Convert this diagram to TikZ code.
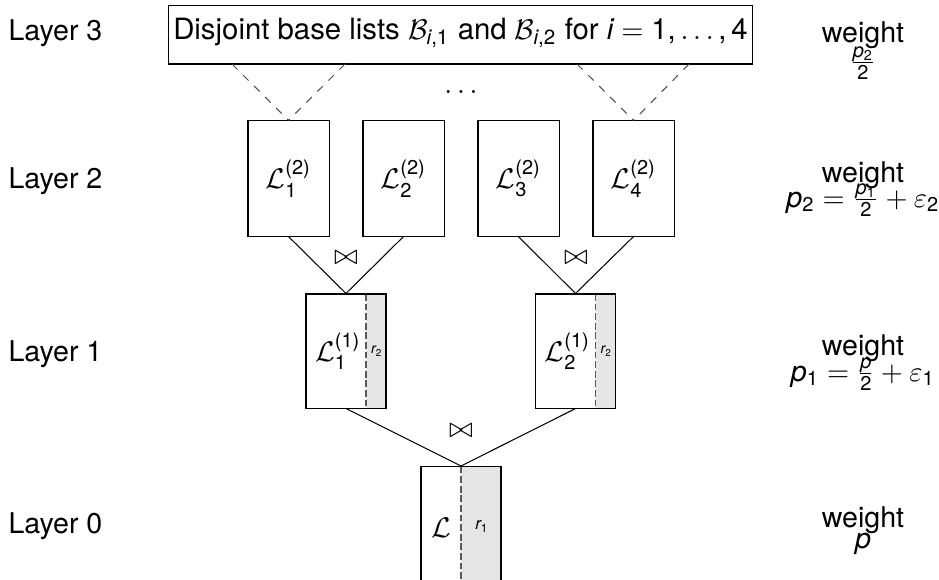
\documentclass[tikz,border=0pt]{standalone}
\usepackage{fontspec}
\setmainfont{TeX Gyre Heros}
\newfontfamily\herosmath{TeX Gyre Heros}[NFSSFamily=herosmath]
% sans digits, parentheses and commas in formulas
\DeclareSymbolFont{sfdig}{TU}{herosmath}{m}{n}
\AtBeginDocument{%
  \DeclareMathSymbol{0}{\mathalpha}{sfdig}{"30}%
  \DeclareMathSymbol{1}{\mathalpha}{sfdig}{"31}%
  \DeclareMathSymbol{2}{\mathalpha}{sfdig}{"32}%
  \DeclareMathSymbol{3}{\mathalpha}{sfdig}{"33}%
  \DeclareMathSymbol{4}{\mathalpha}{sfdig}{"34}%
  \DeclareMathSymbol{5}{\mathalpha}{sfdig}{"35}%
  \DeclareMathSymbol{6}{\mathalpha}{sfdig}{"36}%
  \DeclareMathSymbol{7}{\mathalpha}{sfdig}{"37}%
  \DeclareMathSymbol{8}{\mathalpha}{sfdig}{"38}%
  \DeclareMathSymbol{9}{\mathalpha}{sfdig}{"39}%
  \DeclareMathSymbol{(}{\mathopen}{sfdig}{"28}%
  \DeclareMathSymbol{)}{\mathclose}{sfdig}{"29}%
  \DeclareMathSymbol{,}{\mathpunct}{sfdig}{"2C}%
}
\definecolor{stripgray}{gray}{0.9}
\definecolor{divider}{gray}{0.35}
\newcommand\mv[1]{\mathit{#1}}
\begin{document}
\begin{tikzpicture}[x=0.385pt,y=-0.385pt,
  font=\fontsize{11}{13.6}\selectfont,
  every node/.style={inner sep=0pt},
  toplist/.style={draw, minimum width=225.2pt, minimum height=22.7pt,
    text height=8pt, text depth=4pt,
    font=\fontsize{11.3}{13.6}\selectfont},
  lbox/.style={draw, minimum width=31.2pt, minimum height=44.3pt},
  mbox/.style={draw, minimum width=30.8pt, minimum height=43.9pt,
    path picture={
      \fill[stripgray] ([xshift=-7.7pt]path picture bounding box.north east)
        rectangle (path picture bounding box.south east);
      \draw[divider, line width=0.6pt, dash pattern=on 2.6pt off 1.1pt]
        ([xshift=-7.7pt]path picture bounding box.north east)
        -- ([xshift=-7.7pt]path picture bounding box.south east);}},
  bbox/.style={draw, minimum width=30.8pt, minimum height=60pt,
    path picture={
      \fill[stripgray] (path picture bounding box.north)
        rectangle (path picture bounding box.south east);
      \draw[divider, line width=0.6pt, dash pattern=on 2.6pt off 1.1pt]
        (path picture bounding box.north)
        -- (path picture bounding box.south);}},
  layer/.style={anchor=base west},
  wt/.style={anchor=base},
  link/.style={line width=0.4pt},
  feed/.style={line width=0.4pt, black!70, dashed}]

\clip (0,0) rectangle (939,579);

% layer names
\node[layer] (l3) at (8,40) {Layer 3};
\node[layer] (l2) at (8,188) {Layer 2};
\node[layer] (l1) at (8,361) {Layer 1};
\node[layer] (l0) at (8,533) {Layer 0};

% layer 3: base lists
\node[toplist] (top) at (460.5,34.5)
  {Disjoint base lists $\mathcal{B}_{\mv{i},1}$ and $\mathcal{B}_{\mv{i},2}$ for $\mv{i}=1,\ldots,4$};
\node (dots) at (461,92) {$\ldots$};
\coordinate (t1) at (232,64);
\coordinate (t2) at (345,64);
\coordinate (t3) at (577,64);
\coordinate (t4) at (689,64);

% layer 2
\node[lbox] (a1) at (288.5,178.5) {$\mathcal{L}^{(2)}_1$};
\node[lbox] (a2) at (403.5,178.5) {$\mathcal{L}^{(2)}_2$};
\node[lbox] (a3) at (518.5,178.5) {$\mathcal{L}^{(2)}_3$};
\node[lbox] (a4) at (633.5,178.5) {$\mathcal{L}^{(2)}_4$};

\draw[feed] (t1) -- (a1.north);
\draw[feed] (t2) -- (a1.north);
\draw[feed] (t3) -- (a4.north);
\draw[feed] (t4) -- (a4.north);

% layer 1
\node[mbox] (b1) at (346,351) {};
\node[mbox] (b2) at (575.5,351) {};
\node (b1t) at (338,351) {$\mathcal{L}^{(1)}_1$};
\node (b2t) at (567.5,351) {$\mathcal{L}^{(1)}_2$};
\node[font=\fontsize{5.5}{6.5}\selectfont] (b1r) at (377,351) {$\mv{r}_2$};
\node[font=\fontsize{5.5}{6.5}\selectfont] (b2r) at (606.5,351) {$\mv{r}_2$};

\node (j1) at (346,258) {$\bowtie$};
\node (j2) at (576,258) {$\bowtie$};
\draw[link] (a1.south) -- (b1.north);
\draw[link] (a2.south) -- (b1.north);
\draw[link] (a3.south) -- (b2.north);
\draw[link] (a4.south) -- (b2.north);

% layer 0
\node[bbox, anchor=north] (c) at (461,466) {};
\node (ct) at (441,528) {$\mathcal{L}$};
\node[font=\fontsize{6.5}{8}\selectfont] (cr) at (482,526) {$\mv{r}_1$};
\node (j0) at (461,431) {$\bowtie$};
\draw[link] (b1.south) -- (c.north);
\draw[link] (b2.south) -- (c.north);

% weights
\node[wt] (w3) at (863,42) {weight};
\node[wt] (f3) at (863,70) {$\frac{\mv{p}_2}{2}$};
\node[wt] (w2) at (863,182) {weight};
\node[wt] (f2) at (863,207) {$\mv{p}_2=\frac{\mv{p}_1}{2}+\varepsilon_2$};
\node[wt] (w1) at (863,355) {weight};
\node[wt] (f1) at (863,381) {$\mv{p}_1=\frac{\mv{p}}{2}+\varepsilon_1$};
\node[wt] (w0) at (863,527) {weight};
\node[wt] (f0) at (863,548) {$\mv{p}$};
\end{tikzpicture}
\end{document}
